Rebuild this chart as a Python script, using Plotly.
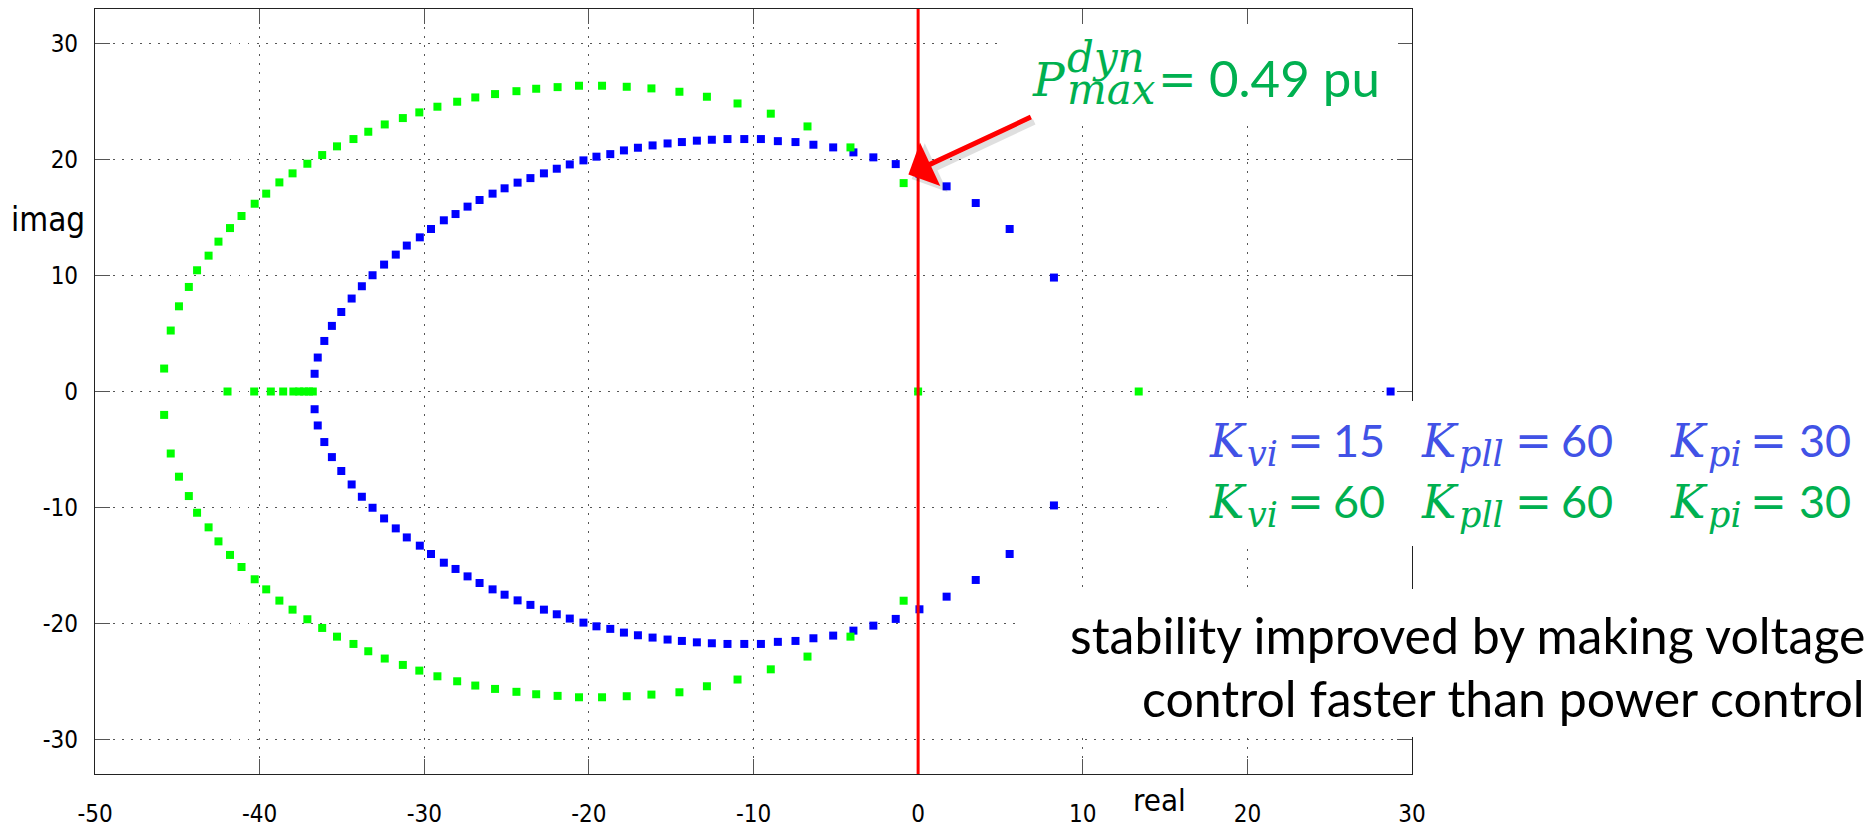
import plotly.graph_objects as go

# ---------------- data ----------------
blue_re_upper = [-36.66, -36.47, -36.07, -35.61, -35.04, -34.41, -33.79, -33.14, -32.44, -31.73,
                 -31.06, -30.27, -29.59, -28.81, -28.10, -27.37, -26.64, -25.85, -25.12, -24.33,
                 -23.55, -22.73, -21.95, -21.16, -20.33, -19.54, -18.70, -17.87, -17.02, -16.13,
                 -15.22, -14.35, -13.44, -12.53, -11.58, -10.56, -9.55, -8.52, -7.45, -6.36,
                 -5.16, -3.93, -2.72, -1.36, 0.08, 1.73, 3.50, 5.56, 8.25]
blue_im_upper = [1.53, 2.93, 4.36, 5.66, 6.86, 8.02, 9.08, 10.03, 10.95, 11.81,
                 12.59, 13.30, 14.02, 14.77, 15.31, 15.95, 16.52, 17.07, 17.53, 18.02,
                 18.41, 18.82, 19.22, 19.59, 19.94, 20.26, 20.48, 20.80, 21.03, 21.23,
                 21.40, 21.52, 21.64, 21.72, 21.78, 21.78, 21.78, 21.60, 21.52, 21.29,
                 21.06, 20.63, 20.20, 19.62, 18.79, 17.70, 16.26, 14.02, 9.83]
blue_re_lower = [-36.66, -36.47, -36.07, -35.61, -35.04, -34.41, -33.79, -33.14, -32.44, -31.73,
                 -31.06, -30.27, -29.59, -28.81, -28.10, -27.37, -26.64, -25.85, -25.12, -24.33,
                 -23.55, -22.73, -21.95, -21.16, -20.33, -19.54, -18.70, -17.87, -17.02, -16.13,
                 -15.22, -14.35, -13.44, -12.53, -11.58, -10.56, -9.55, -8.52, -7.45, -6.36,
                 -5.16, -3.93, -2.72, -1.36, 0.08, 1.73, 3.50, 5.56, 8.25]
blue_im_lower = [-1.53, -2.93, -4.36, -5.66, -6.86, -8.02, -9.08, -10.03, -10.95, -11.81,
                 -12.59, -13.30, -14.02, -14.77, -15.31, -15.95, -16.52, -17.07, -17.53, -18.02,
                 -18.41, -18.82, -19.22, -19.59, -19.94, -20.26, -20.48, -20.80, -21.03, -21.23,
                 -21.40, -21.52, -21.64, -21.72, -21.78, -21.78, -21.78, -21.60, -21.52, -21.29,
                 -21.06, -20.63, -20.20, -19.62, -18.79, -17.70, -16.26, -14.02, -9.83]
blue_re_axis = [28.7]
blue_im_axis = [0.0]

green_re_upper = [-45.8, -45.4, -44.9, -44.3, -43.8, -43.1, -42.5, -41.8, -41.1, -40.3,
                  -39.6, -38.8, -38.0, -37.1, -36.2, -35.3, -34.3, -33.4, -32.4, -31.3,
                  -30.3, -29.2, -28.0, -26.9, -25.7, -24.4, -23.2, -21.9, -20.6, -19.2,
                  -17.7, -16.2, -14.5, -12.83, -10.97, -8.95, -6.72, -4.11, -0.88]
green_im_upper = [1.98, 5.26, 7.35, 9.02, 10.46, 11.72, 12.93, 14.10, 15.14, 16.20,
                  17.07, 18.04, 18.82, 19.65, 20.40, 21.15, 21.78, 22.41, 23.04, 23.59,
                  24.08, 24.57, 25.00, 25.37, 25.66, 25.91, 26.12, 26.26, 26.38, 26.38,
                  26.29, 26.15, 25.86, 25.43, 24.85, 23.97, 22.87, 21.06, 17.98]
green_re_lower = [-45.8, -45.4, -44.9, -44.3, -43.8, -43.1, -42.5, -41.8, -41.1, -40.3,
                  -39.6, -38.8, -38.0, -37.1, -36.2, -35.3, -34.3, -33.4, -32.4, -31.3,
                  -30.3, -29.2, -28.0, -26.9, -25.7, -24.4, -23.2, -21.9, -20.6, -19.2,
                  -17.7, -16.2, -14.5, -12.83, -10.97, -8.95, -6.72, -4.11, -0.88]
green_im_lower = [-2.02, -5.35, -7.35, -9.02, -10.46, -11.72, -12.93, -14.10, -15.14, -16.20,
                  -17.07, -18.04, -18.82, -19.65, -20.40, -21.15, -21.78, -22.41, -23.04, -23.59,
                  -24.08, -24.57, -25.00, -25.37, -25.66, -25.91, -26.12, -26.26, -26.38, -26.38,
                  -26.29, -26.15, -25.95, -25.43, -24.85, -23.97, -22.87, -21.15, -18.05]
green_re_axis = [-41.95, -40.33, -39.32, -38.57, -37.95, -37.6, -37.3, -37.0, -36.77, 0.0, 13.4]
green_im_axis = [0.0, 0.0, 0.0, 0.0, 0.0, 0.0, 0.0, 0.0, 0.0, 0.0, 0.0]

x_ticks = [-50, -40, -30, -20, -10, 0, 10, 20, 30]
x_tick_text = ["-50", "-40", "-30", "-20", "-10", "0", "10", "20", "30"]
y_ticks = [-30, -20, -10, 0, 10, 20, 30]
y_tick_text = ["-30", "-20", "-10", "0", "10", "20", "30"]

k_rows = [
    ("#4152E6", [("vi", "15"), ("pll", "60"), ("pi", "30")]),
    ("#00B050", [("vi", "60"), ("pll", "60"), ("pi", "30")]),
]
note_lines = ["stability improved by making voltage", "control faster than power control"]

# ---------------- layout geometry ----------------
W, H = 1876, 831
L, R, T, B = 95, 464, 9, 57
PW, PH = W - L - R, H - T - B


def paper(px, py):
    return (px - L) / PW, (H - B - py) / PH


fig = go.Figure()

mk = dict(symbol="square", size=8, line=dict(width=0))
fig.add_trace(go.Scatter(x=blue_re_upper + blue_re_lower + blue_re_axis,
                         y=blue_im_upper + blue_im_lower + blue_im_axis,
                         mode="markers", marker=dict(color="#0000FF", **mk), showlegend=False))
fig.add_trace(go.Scatter(x=green_re_upper + green_re_lower + green_re_axis,
                         y=green_im_upper + green_im_lower + green_im_axis,
                         mode="markers", marker=dict(color="#00FF00", **mk), showlegend=False))

TICKFAM = "DejaVu Sans Condensed, DejaVu Sans"
tickfont = dict(family=TICKFAM, size=24, color="#000")
axis_common = dict(showline=True, linecolor="#222", linewidth=1.2, mirror="ticks",
                   ticks="inside", ticklen=15, tickcolor="#555", tickwidth=1.2,
                   showgrid=True, gridcolor="#555", gridwidth=1.2, griddash="1.5px,7.5px",
                   zeroline=False, tickfont=tickfont, automargin=False)
fig.update_xaxes(range=[-50, 30], tickvals=x_ticks, ticktext=x_tick_text,
                 ticklabelstandoff=18, **axis_common)
fig.update_yaxes(range=[-33, 33], tickvals=y_ticks, ticktext=y_tick_text,
                 ticklabelstandoff=11, **axis_common)

shapes = []
# red vertical line at real = 0
shapes.append(dict(type="line", xref="x", yref="paper", x0=0, x1=0, y0=0, y1=1,
                   line=dict(color="#FF0000", width=3), layer="above"))
# white boxes behind the text blocks
for (x0, y0, x1, y1) in [(1003, 26, 1398, 126), (1167, 401, 1876, 546), (1022, 589, 1876, 737)]:
    a0, b0 = paper(x0, y1)
    a1, b1 = paper(x1, y0)
    shapes.append(dict(type="rect", xref="paper", yref="paper", x0=a0, x1=a1, y0=b0, y1=b1,
                       fillcolor="white", line=dict(width=0), layer="above"))
fig.update_layout(shapes=shapes)

ASC = {"dejavu": (0.928, 0.236), "lato": (0.987, 0.213)}


def txt(px, base, text, family, size, color, xanchor="left", metrics="dejavu"):
    a, d = ASC[metrics]
    yc = base - (a - d) / 2 * size
    xp, yp = paper(px, yc)
    fig.add_annotation(x=xp, y=yp, xref="paper", yref="paper", text=text, showarrow=False,
                       xanchor=xanchor, yanchor="middle", borderpad=0,
                       font=dict(family=family, size=size, color=color))


SERIF = "DejaVu Serif"
SANS = "Lato"
GREEN = "#00B050"

# axis titles
txt(48, 231, "imag", TICKFAM, 33, "#000", "center")
txt(1159, 811, "real", TICKFAM, 31, "#000", "center")

# arrow shadow + arrow
fig.add_annotation(x=-0.59 + 0.2, y=18.73 - 0.4, xref="x", yref="y", ax=124, ay=-58, text="",
                   showarrow=True, arrowhead=1, arrowsize=1.5, arrowwidth=6,
                   arrowcolor="rgba(0,0,0,0.12)")
fig.add_annotation(x=-0.59, y=18.73, xref="x", yref="y", ax=124, ay=-58, text="",
                   showarrow=True, arrowhead=1, arrowsize=1.6, arrowwidth=5, arrowcolor="#FF0000")

# P_max^dyn = 0.49 pu
txt(1031, 96, "<i>P</i>", SERIF, 47, GREEN)
# superscript "dyn" stacked over subscript "max" in one two-line text
# (line pitch = 1.3 * base size = 32 px; glyphs drawn at 42 px)
sup_sub = ("<span style='font-size:42px'><i>dyn</i></span><br>"
           "<span style='font-size:42px'><i>max</i></span>")
xp, yp = paper(1066, 73.5)
fig.add_annotation(x=xp, y=yp, xref="paper", yref="paper", text=sup_sub, showarrow=False,
                   xanchor="left", yanchor="middle", align="left", borderpad=0,
                   font=dict(family=SERIF, size=24.6, color=GREEN))
txt(1157, 95, "=", "DejaVu Sans", 46, GREEN)
txt(1208, 97, "0.49 pu", SANS, 51, GREEN, metrics="lato")

# K rows
k_left = [1208, 1420, 1669]
eq_center = [1305, 1533, 1768]
num_right = [1386, 1614, 1852]
row_base = [457, 518]
for (color, items), base in zip(k_rows, row_base):
    for i, (sub, num) in enumerate(items):
        txt(k_left[i], base, "<i>K</i>", SERIF, 46, color)
        txt(k_left[i] + 38, base + 9, "<i>" + sub + "</i>", SERIF, 35, color)
        txt(eq_center[i], base - 1, "=", "DejaVu Sans", 44, color, "center")
        txt(num_right[i], base, num, SANS, 45, color, "right", metrics="lato")

# note text
for line, base in zip(note_lines, [654, 717]):
    txt(1866, base, line, SANS, 50, "#000", "right", metrics="lato")

fig.update_layout(width=W, height=H, margin=dict(l=L, r=R, t=T, b=B, autoexpand=False),
                  plot_bgcolor="white", paper_bgcolor="white", showlegend=False)

fig.write_html("out.html")
